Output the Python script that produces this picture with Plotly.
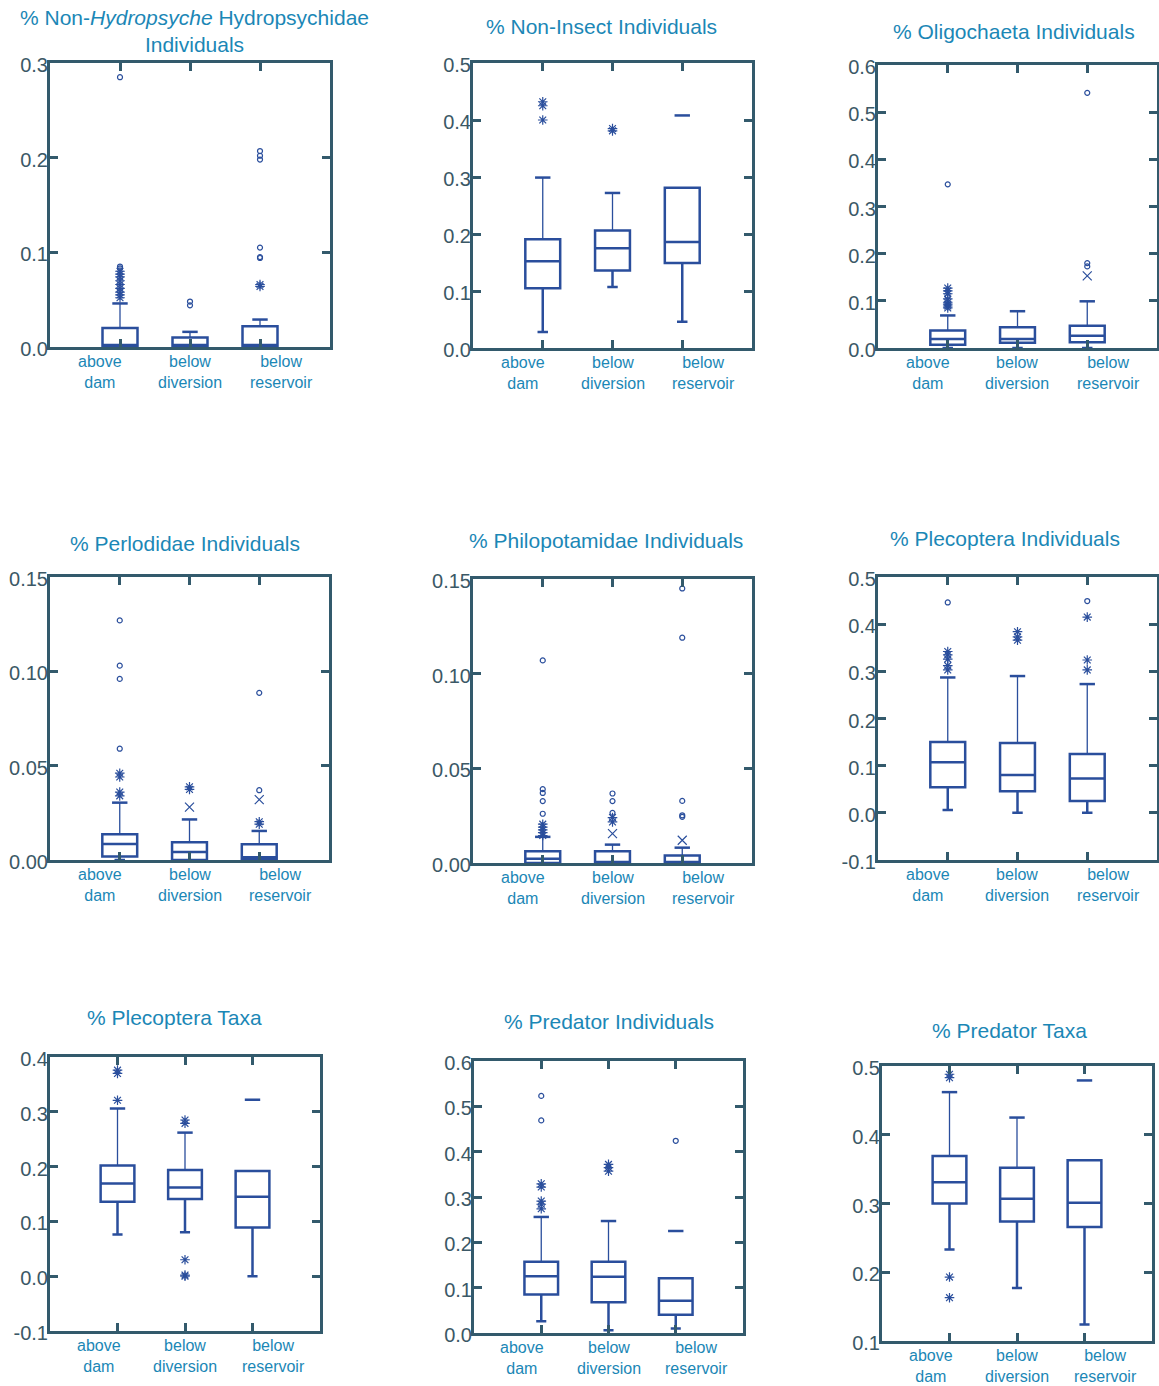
import plotly.graph_objects as go

# ---------------- data ----------------
CATEGORIES = ["above<br>dam", "below<br>diversion", "below<br>reservoir"]

TITLES = [
    "% Non-<i>Hydropsyche</i> Hydropsychidae<br>Individuals",
    "% Non-Insect Individuals",
    "% Oligochaeta Individuals",
    "% Perlodidae Individuals",
    "% Philopotamidae Individuals",
    "% Plecoptera Individuals",
    "% Plecoptera Taxa",
    "% Predator Individuals",
    "% Predator Taxa",
]

Y_TICKS = [
    [0.0, 0.1, 0.2, 0.3],
    [0.0, 0.1, 0.2, 0.3, 0.4, 0.5],
    [0.0, 0.1, 0.2, 0.3, 0.4, 0.5, 0.6],
    [0.00, 0.05, 0.10, 0.15],
    [0.00, 0.05, 0.10, 0.15],
    [-0.1, 0.0, 0.1, 0.2, 0.3, 0.4, 0.5],
    [-0.1, 0.0, 0.1, 0.2, 0.3, 0.4],
    [0.0, 0.1, 0.2, 0.3, 0.4, 0.5, 0.6],
    [0.1, 0.2, 0.3, 0.4, 0.5],
]
Y_DECIMALS = [1, 1, 1, 2, 2, 1, 1, 1, 1]

Q1 = [
    [0.0, 0.0, 0.0],
    [0.105, 0.136, 0.149],
    [0.007, 0.011, 0.012],
    [0.0018, 0.0, 0.0004],
    [0.0, 0.0, 0.0],
    [0.054, 0.046, 0.025],
    [0.136, 0.141, 0.089],
    [0.085, 0.068, 0.040],
    [0.300, 0.274, 0.266],
]
MEDIAN = [
    [0.002, 0.002, 0.002],
    [0.152, 0.175, 0.186],
    [0.019, 0.019, 0.026],
    [0.0085, 0.0042, 0.0014],
    [0.0023, 0.0005, 0.0003],
    [0.107, 0.080, 0.073],
    [0.169, 0.162, 0.145],
    [0.125, 0.124, 0.071],
    [0.331, 0.307, 0.301],
]
Q3 = [
    [0.020, 0.010, 0.022],
    [0.191, 0.206, 0.281],
    [0.037, 0.044, 0.047],
    [0.0136, 0.0094, 0.0083],
    [0.0062, 0.0062, 0.0040],
    [0.150, 0.148, 0.125],
    [0.202, 0.194, 0.192],
    [0.157, 0.157, 0.121],
    [0.369, 0.352, 0.363],
]
LOWER = [
    [0.0, 0.0, 0.0],
    [0.028, 0.107, 0.046],
    [0.0, 0.0, 0.0],
    [0.0, 0.0, 0.0],
    [0.0, 0.0, 0.0],
    [0.006, 0.0, 0.0],
    [0.076, 0.080, 0.0],
    [0.026, 0.006, 0.010],
    [0.233, 0.177, 0.124],
]
UPPER = [
    [0.046, 0.016, 0.029],
    [0.299, 0.272, None],
    [0.069, 0.078, 0.099],
    [0.0304, 0.0215, 0.0154],
    [0.0138, 0.0097, 0.0081],
    [0.287, 0.290, 0.273],
    [0.306, 0.262, None],
    [0.256, 0.247, None],
    [0.462, 0.425, None],
]
# whisker end marks drawn without a whisker line
CAP_ONLY = [
    [[], [], []],
    [[], [], [0.408]],
    [[], [], []],
    [[], [], []],
    [[], [], []],
    [[], [], []],
    [[], [], [0.322]],
    [[], [], [0.225]],
    [[], [], [0.479]],
]
# outside values (asterisks)
OUTSIDE = [
    [[0.052, 0.055, 0.058, 0.062, 0.066, 0.070, 0.074, 0.077, 0.080], [], [0.064, 0.066]],
    [[0.400, 0.425, 0.432], [0.381, 0.385], []],
    [[0.085, 0.089, 0.093, 0.097, 0.104, 0.115, 0.121, 0.127], [], []],
    [[0.034, 0.036, 0.044, 0.046], [0.0374, 0.0388], [0.019, 0.0203]],
    [[0.0145, 0.016, 0.0175, 0.019, 0.0205], [0.0217, 0.024], []],
    [[0.303, 0.312, 0.326, 0.335, 0.342], [0.366, 0.373, 0.384], [0.303, 0.324, 0.415]],
    [[0.321, 0.370, 0.376], [0.0, 0.002, 0.030, 0.279, 0.285], []],
    [[0.274, 0.284, 0.291, 0.322, 0.329], [0.357, 0.365, 0.372], []],
    [[0.163, 0.193, 0.483, 0.488], [], []],
]
# outside values drawn as plain crosses
XMARK = [
    [[], [], []],
    [[], [], []],
    [[], [], [0.153]],
    [[], [0.028], [0.032]],
    [[], [0.0155], [0.012]],
    [[], [], []],
    [[], [], []],
    [[], [], []],
    [[], [], []],
]
# far outside values (circles)
FAR = [
    [[0.083, 0.085, 0.285], [0.044, 0.048], [0.094, 0.095, 0.105, 0.198, 0.202, 0.207]],
    [[], [], []],
    [[0.109, 0.347], [], [0.173, 0.180, 0.541]],
    [[0.059, 0.096, 0.103, 0.127], [], [0.037, 0.0886]],
    [[0.026, 0.0327, 0.037, 0.039, 0.107], [0.0265, 0.0327, 0.0367], [0.0244, 0.0252, 0.0328, 0.119, 0.145]],
    [[0.446], [], [0.449]],
    [[], [], []],
    [[0.469, 0.523], [], [0.424]],
    [[], [], []],
]

# ---------------- style / layout ----------------
W, H = 1159, 1386
PANEL_PX = [  # x0, x1, y0(top), y1(bottom) in pixels
    (50, 330, 63, 347),
    (473, 752, 63, 348),
    (878, 1157, 65, 348),
    (50, 329, 577, 860),
    (473, 752, 579, 863),
    (878, 1157, 577, 860),
    (50, 320, 1057, 1331),
    (474, 743, 1061, 1333),
    (882, 1152, 1066, 1341),
]
TITLE_PX = [(194, 31), (601, 27), (1014, 32), (185, 543), (606, 540),
            (1005, 539), (174, 1017), (609, 1021), (1009, 1030)]
LABEL_OFFSETS = [-0.28, 0.0, 0.31]

FONT = "Liberation Sans, Arial, sans-serif"
AXIS_COLOR = "#335a6c"
TICK_TEXT = "#3b5866"
BOX_COLOR = "#2a4e9c"
TEXT_COLOR = "#1b87b6"

fig = go.Figure()
annotations = []
layout_axes = {}

for k in range(9):
    sx = "" if k == 0 else str(k + 1)
    xref, yref = "x" + sx, "y" + sx
    xs = [1, 2, 3]

    fig.add_trace(go.Box(
        x=xs, q1=Q1[k], median=MEDIAN[k], q3=Q3[k],
        lowerfence=LOWER[k], upperfence=Q3[k],
        width=0.5, whiskerwidth=0.3, boxpoints=False,
        line=dict(color=BOX_COLOR, width=2.5), fillcolor="rgba(0,0,0,0)",
        xaxis=xref, yaxis=yref, showlegend=False, hoverinfo="skip",
    ))

    # thin upper whiskers with thick caps
    wx, wy, cx, cy = [], [], [], []
    for i in range(3):
        if UPPER[k][i] is not None:
            wx += [xs[i], xs[i], None]
            wy += [Q3[k][i], UPPER[k][i], None]
            cx.append(xs[i]); cy.append(UPPER[k][i])
        for v in CAP_ONLY[k][i]:
            cx.append(xs[i]); cy.append(v)
    fig.add_trace(go.Scatter(x=wx, y=wy, mode="lines",
                             line=dict(color=BOX_COLOR, width=1.3),
                             xaxis=xref, yaxis=yref, showlegend=False, hoverinfo="skip"))
    fig.add_trace(go.Scatter(x=cx, y=cy, mode="markers",
                             marker=dict(symbol="line-ew-open", size=11, color=BOX_COLOR,
                                         line=dict(color=BOX_COLOR, width=2.5)),
                             xaxis=xref, yaxis=yref, showlegend=False, hoverinfo="skip"))

    for arr, sym, size in ((OUTSIDE, "asterisk-open", 8), (XMARK, "x-thin-open", 9), (FAR, "circle-open", 5)):
        px_, py_ = [], []
        for i in range(3):
            for v in arr[k][i]:
                px_.append(xs[i]); py_.append(v)
        fig.add_trace(go.Scatter(x=px_, y=py_, mode="markers",
                                 marker=dict(symbol=sym, size=size, color=BOX_COLOR,
                                             line=dict(color=BOX_COLOR, width=1.2)),
                                 xaxis=xref, yaxis=yref, showlegend=False, hoverinfo="skip"))

    x0, x1, y0, y1 = PANEL_PX[k]
    ticks = Y_TICKS[k]
    d = Y_DECIMALS[k]
    layout_axes["xaxis" + sx] = dict(
        domain=[x0 / W, x1 / W], range=[0, 4], tickvals=[1, 2, 3],
        ticks="inside", ticklen=8, tickwidth=2.5, tickcolor=AXIS_COLOR,
        showline=True, linecolor=AXIS_COLOR, linewidth=3, mirror="ticks",
        showticklabels=False, showgrid=False, zeroline=False, anchor=yref,
        automargin=False,
    )
    layout_axes["yaxis" + sx] = dict(
        domain=[1 - y1 / H, 1 - y0 / H], range=[ticks[0], ticks[-1]],
        tickvals=ticks, ticktext=[f"{v:.{d}f}" for v in ticks],
        ticks="inside", ticklen=8, tickwidth=2.5, tickcolor=AXIS_COLOR,
        showline=True, linecolor=AXIS_COLOR, linewidth=3, mirror="ticks",
        showgrid=False, zeroline=False, anchor=xref, automargin=False,
        tickfont=dict(family=FONT, size=20, color=TICK_TEXT),
        ticklabelstandoff=-5, ticklabelshift=2,
    )

    for i in range(3):
        annotations.append(dict(
            x=xs[i] + LABEL_OFFSETS[i], y=0, xref=xref, yref=yref + " domain",
            text=CATEGORIES[i], showarrow=False, xanchor="center", yanchor="top",
            yshift=-4, font=dict(family=FONT, size=16, color=TEXT_COLOR),
        ))
    tx, ty = TITLE_PX[k]
    annotations.append(dict(
        x=tx / W, y=1 - ty / H, xref="paper", yref="paper", text=TITLES[k],
        showarrow=False, xanchor="center", yanchor="middle",
        font=dict(family=FONT, size=21, color=TEXT_COLOR),
    ))

fig.update_layout(
    width=W, height=H, margin=dict(l=0, r=0, t=0, b=0, pad=0, autoexpand=False),
    paper_bgcolor="white", plot_bgcolor="white", showlegend=False,
    annotations=annotations, **layout_axes,
)

fig.write_html(
    "out.html",
    config={"displayModeBar": False, "responsive": False},
    post_script=(
        "document.documentElement.style.margin='0px';"
        "document.documentElement.style.overflow='hidden';"
        "document.body.style.margin='0px';"
        "document.body.style.overflow='hidden';"
    ),
)
